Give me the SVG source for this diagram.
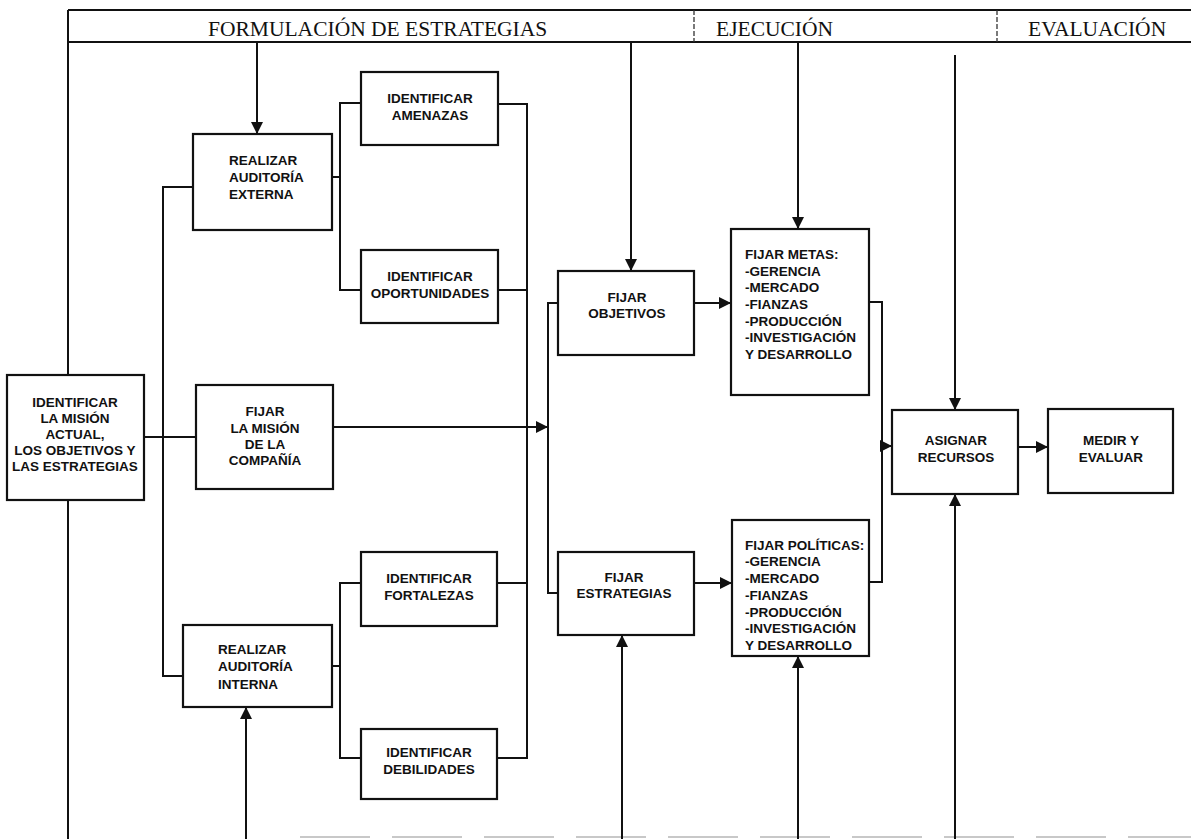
<svg xmlns="http://www.w3.org/2000/svg" width="1191" height="839" viewBox="0 0 1191 839">
  <style>
    .frame { stroke: #111; stroke-width: 2; fill: none; }
    .divider { stroke: #333; stroke-width: 1.3; stroke-dasharray: 5 2; fill: none; }
    .faint { stroke: #c8c8c8; stroke-width: 2; stroke-dasharray: 70 22; fill: none; }
    .box { fill: #fff; stroke: #111; stroke-width: 2.2; }
    .wire { stroke: #111; stroke-width: 2; fill: none; }
    .arrow { stroke: #111; stroke-width: 2; fill: none; marker-end: url(#head); }
    .head { font-family: "Liberation Serif", "Times New Roman", serif; font-size: 21.5px; fill: #111; }
    .lbl { font-family: "Liberation Sans", Arial, sans-serif; font-size: 13.5px; font-weight: bold; fill: #111; }
    .c { text-anchor: middle; }
  </style>
  <defs>
    <marker id="head" viewBox="0 0 12 12" refX="12" refY="6" markerWidth="12" markerHeight="12" markerUnits="userSpaceOnUse" orient="auto">
      <path d="M0,0 L12,6 L0,12 Z" fill="#111"/>
    </marker>
  </defs>

  <!-- page frame and stage header -->
  <g id="frame">
    <line class="frame" x1="68" y1="10" x2="1191" y2="10"/>
    <line class="frame" x1="68" y1="42" x2="1191" y2="42"/>
    <line class="frame" x1="68" y1="10" x2="68" y2="839"/>
    <line class="divider" x1="694" y1="10" x2="694" y2="42"/>
    <line class="divider" x1="997" y1="10" x2="997" y2="42"/>
    <line class="faint" x1="300" y1="837" x2="1191" y2="837"/>
    <text class="head" x="208" y="36">FORMULACIÓN DE ESTRATEGIAS</text>
    <text class="head" x="716" y="36">EJECUCIÓN</text>
    <text class="head" x="1028" y="36">EVALUACIÓN</text>
  </g>

  <!-- connectors -->
  <g id="connectors">
    <!-- left bus from the current mission -->
    <path class="wire" d="M193,187 H163 V676 H183"/>
    <line class="wire" x1="144" y1="437" x2="196" y2="437"/>
    <!-- external audit branches -->
    <path class="wire" d="M361,103 H340 V290 H361"/>
    <line class="wire" x1="332" y1="177" x2="340" y2="177"/>
    <!-- internal audit branches -->
    <path class="wire" d="M361,583 H340 V758 H361"/>
    <line class="wire" x1="332" y1="666" x2="340" y2="666"/>
    <!-- right bus collecting threats, opportunities, strengths, weaknesses -->
    <path class="wire" d="M498,104 H527 V758 H497"/>
    <line class="wire" x1="498" y1="290" x2="527" y2="290"/>
    <line class="wire" x1="497" y1="583" x2="527" y2="583"/>
    <!-- mission into objectives / strategies bus -->
    <line class="arrow" x1="333" y1="427" x2="548" y2="427"/>
    <path class="wire" d="M558,303 H548 V593 H558"/>
    <!-- objectives and strategies forward -->
    <line class="arrow" x1="694" y1="303" x2="731" y2="303"/>
    <line class="arrow" x1="694" y1="583" x2="732" y2="583"/>
    <!-- goals and policies into resources -->
    <path class="wire" d="M869,302 H882 V582 H869"/>
    <line class="arrow" x1="882" y1="446" x2="892" y2="446"/>
    <line class="arrow" x1="1018" y1="447" x2="1048" y2="447"/>
    <!-- feedback from the header -->
    <line class="arrow" x1="257" y1="42" x2="257" y2="134"/>
    <line class="arrow" x1="631" y1="42" x2="631" y2="271"/>
    <line class="arrow" x1="798" y1="42" x2="798" y2="229"/>
    <line class="arrow" x1="955" y1="55" x2="955" y2="410"/>
    <!-- feedback from the bottom -->
    <line class="arrow" x1="246" y1="839" x2="246" y2="707"/>
    <line class="arrow" x1="622" y1="839" x2="622" y2="635"/>
    <line class="arrow" x1="798" y1="839" x2="798" y2="656"/>
    <line class="arrow" x1="955" y1="839" x2="955" y2="494"/>
  </g>

  <g id="mision-actual">
    <rect class="box" x="7" y="375" width="137" height="125"/>
    <text class="lbl c" x="75" y="407">IDENTIFICAR</text>
    <text class="lbl c" x="75" y="423">LA MISIÓN</text>
    <text class="lbl c" x="75" y="439">ACTUAL,</text>
    <text class="lbl c" x="75" y="455">LOS OBJETIVOS Y</text>
    <text class="lbl c" x="75" y="471">LAS ESTRATEGIAS</text>
  </g>

  <g id="auditoria-externa">
    <rect class="box" x="193" y="134" width="139" height="96"/>
    <text class="lbl" x="229" y="165">REALIZAR</text>
    <text class="lbl" x="229" y="182">AUDITORÍA</text>
    <text class="lbl" x="229" y="199">EXTERNA</text>
  </g>

  <g id="amenazas">
    <rect class="box" x="361" y="72" width="137" height="73"/>
    <text class="lbl c" x="430" y="103">IDENTIFICAR</text>
    <text class="lbl c" x="430" y="120">AMENAZAS</text>
  </g>

  <g id="oportunidades">
    <rect class="box" x="361" y="250" width="137" height="73"/>
    <text class="lbl c" x="430" y="281">IDENTIFICAR</text>
    <text class="lbl c" x="430" y="298">OPORTUNIDADES</text>
  </g>

  <g id="mision-compania">
    <rect class="box" x="196" y="385" width="137" height="104"/>
    <text class="lbl c" x="265" y="416">FIJAR</text>
    <text class="lbl c" x="265" y="433">LA MISIÓN</text>
    <text class="lbl c" x="265" y="449">DE LA</text>
    <text class="lbl c" x="265" y="465">COMPAÑÍA</text>
  </g>

  <g id="fortalezas">
    <rect class="box" x="361" y="552" width="136" height="74"/>
    <text class="lbl c" x="429" y="583">IDENTIFICAR</text>
    <text class="lbl c" x="429" y="600">FORTALEZAS</text>
  </g>

  <g id="auditoria-interna">
    <rect class="box" x="183" y="625" width="149" height="82"/>
    <text class="lbl" x="218" y="654">REALIZAR</text>
    <text class="lbl" x="218" y="671">AUDITORÍA</text>
    <text class="lbl" x="218" y="689">INTERNA</text>
  </g>

  <g id="debilidades">
    <rect class="box" x="361" y="729" width="136" height="70"/>
    <text class="lbl c" x="429" y="757">IDENTIFICAR</text>
    <text class="lbl c" x="429" y="774">DEBILIDADES</text>
  </g>

  <g id="objetivos">
    <rect class="box" x="558" y="271" width="136" height="84"/>
    <text class="lbl c" x="627" y="302">FIJAR</text>
    <text class="lbl c" x="627" y="318">OBJETIVOS</text>
  </g>

  <g id="estrategias">
    <rect class="box" x="558" y="552" width="136" height="83"/>
    <text class="lbl c" x="624" y="582">FIJAR</text>
    <text class="lbl c" x="624" y="598">ESTRATEGIAS</text>
  </g>

  <g id="metas">
    <rect class="box" x="731" y="229" width="138" height="166"/>
    <text class="lbl" x="745" y="259">FIJAR METAS:</text>
    <text class="lbl" x="745" y="276">-GERENCIA</text>
    <text class="lbl" x="745" y="292">-MERCADO</text>
    <text class="lbl" x="745" y="309">-FIANZAS</text>
    <text class="lbl" x="745" y="326">-PRODUCCIÓN</text>
    <text class="lbl" x="745" y="342">-INVESTIGACIÓN</text>
    <text class="lbl" x="745" y="359">Y DESARROLLO</text>
  </g>

  <g id="politicas">
    <rect class="box" x="732" y="520" width="137" height="136"/>
    <text class="lbl" x="745" y="550">FIJAR POLÍTICAS:</text>
    <text class="lbl" x="745" y="566">-GERENCIA</text>
    <text class="lbl" x="745" y="583">-MERCADO</text>
    <text class="lbl" x="745" y="600">-FIANZAS</text>
    <text class="lbl" x="745" y="617">-PRODUCCIÓN</text>
    <text class="lbl" x="745" y="633">-INVESTIGACIÓN</text>
    <text class="lbl" x="745" y="650">Y DESARROLLO</text>
  </g>

  <g id="asignar">
    <rect class="box" x="892" y="410" width="126" height="84"/>
    <text class="lbl c" x="956" y="445">ASIGNAR</text>
    <text class="lbl c" x="956" y="462">RECURSOS</text>
  </g>

  <g id="medir">
    <rect class="box" x="1048" y="409" width="125" height="84"/>
    <text class="lbl c" x="1111" y="445">MEDIR Y</text>
    <text class="lbl c" x="1111" y="462">EVALUAR</text>
  </g>
</svg>
